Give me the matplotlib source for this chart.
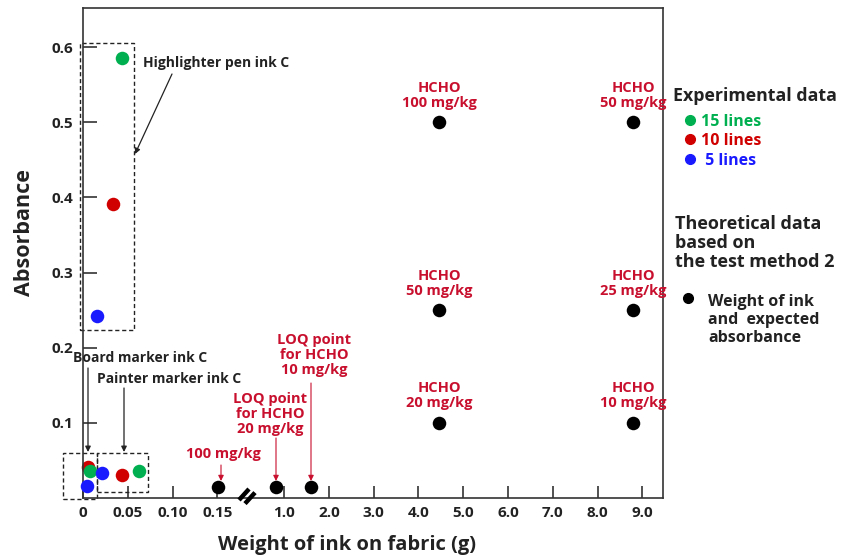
import numpy as np
import matplotlib
matplotlib.use("Agg")
import matplotlib.pyplot as plt
from matplotlib.patches import Rectangle
from matplotlib.lines import Line2D

plt.rcParams['font.family'] = ['Open Sans', 'DejaVu Sans']
plt.rcParams['font.weight'] = 'bold'

# ---------------- data ----------------
# experimental data: (weight of ink g, absorbance)
green_x = [0.044, 0.008, 0.062]
green_y = [0.586, 0.036, 0.036]
red_x = [0.034, 0.0056, 0.043]
red_y = [0.391, 0.041, 0.031]
blue_x = [0.016, 0.005, 0.021]
blue_y = [0.242, 0.016, 0.033]

# theoretical data
theo_x = [0.154, 0.82, 1.6, 4.46, 8.8, 4.46, 8.8, 4.46, 8.8]
theo_y = [0.015, 0.015, 0.015, 0.5, 0.5, 0.25, 0.25, 0.1, 0.1]
theo_labels = ["", "", "", "HCHO\n100 mg/kg", "HCHO\n50 mg/kg", "HCHO\n50 mg/kg",
               "HCHO\n25 mg/kg", "HCHO\n20 mg/kg", "HCHO\n10 mg/kg"]

x_ticks = [0, 0.05, 0.10, 0.15, 1, 2, 3, 4, 5, 6, 7, 8, 9]
x_ticklabels = ["0", "0.05", "0.10", "0.15", "1.0", "2.0", "3.0", "4.0", "5.0",
                "6.0", "7.0", "8.0", "9.0"]
y_ticks = [0.1, 0.2, 0.3, 0.4, 0.5, 0.6]
y_ticklabels = ["0.1", "0.2", "0.3", "0.4", "0.5", "0.6"]

# broken x axis: piecewise linear scale
KX = [-1.0, 0.0, 0.15, 0.6, 20.0]
KP = [-20.0, 0.0, 3.0, 4.09, 23.49]


def fwd(x):
    return np.interp(x, KX, KP)


def inv(p):
    return np.interp(p, KP, KX)


W, H = 841, 556


def fp(x, y):
    return (x / W, 1 - y / H)


RED_T = '#c8102e'
GREEN = '#00b050'
RED = '#d00000'
BLUE = '#1a1aff'
DARK = '#222222'

fig = plt.figure(figsize=(W / 100, H / 100), dpi=100)
ax = fig.add_axes([83 / W, 1 - 498 / H, (663 - 83) / W, (498 - 8) / H])
ax.set_xscale('function', functions=(fwd, inv))
ax.set_xlim(0, 9.46)
ax.set_ylim(0, 0.652)

for s in ax.spines.values():
    s.set_linewidth(1.2)
    s.set_color('#333333')

ax.set_xticks(x_ticks)
ax.set_xticklabels(x_ticklabels)
ax.set_yticks(y_ticks)
ax.set_yticklabels(y_ticklabels)
ax.xaxis.set_minor_locator(matplotlib.ticker.NullLocator())
ax.tick_params(axis='x', direction='in', length=8.5, width=1.2, color='#333333',
               labelsize=11, pad=6, labelcolor=DARK)
ax.tick_params(axis='y', direction='in', length=10, width=1.2, color='#333333',
               labelsize=11, pad=7, labelcolor=DARK)
for lab in ax.get_xticklabels() + ax.get_yticklabels():
    lab.set_fontweight('bold')

S = 95
ax.scatter(green_x, green_y, s=S, color=GREEN, zorder=3, clip_on=False, linewidths=0)
ax.scatter(red_x[:1] + red_x[2:], red_y[:1] + red_y[2:], s=S, color=RED, zorder=3,
           clip_on=False, linewidths=0)
ax.scatter(red_x[1:2], red_y[1:2], s=S, color=RED, zorder=2.5, clip_on=False, linewidths=0)
ax.scatter(blue_x, blue_y, s=S, color=BLUE, zorder=3, clip_on=False, linewidths=0)
ax.scatter(theo_x, theo_y, s=S, color='black', zorder=3, clip_on=False, linewidths=0)

# labels above theoretical points
for x, y, t in zip(theo_x, theo_y, theo_labels):
    if t:
        ax.annotate(t, (x, y), xytext=(0, 9), textcoords='offset points',
                    ha='center', va='bottom', color=RED_T, fontsize=10.5,
                    fontweight='bold', linespacing=1.1)

# dashed boxes (annotation regions)
boxes = [(-0.003, 0.223, 0.057, 0.606), (-0.022, -0.001, 0.0156, 0.060),
         (0.0156, 0.008, 0.073, 0.060)]
for x0, y0, x1, y1 in boxes:
    ax.add_patch(Rectangle((x0, y0), x1 - x0, y1 - y0, fill=False,
                           ls=(0, (3, 2)), lw=1.0, ec=DARK, clip_on=False, zorder=2))


def arrow(p0, p1, color, lw=0.9):
    fig.add_artist(matplotlib.patches.FancyArrowPatch(
        fp(*p0), fp(*p1), transform=fig.transFigure, arrowstyle='-|>',
        mutation_scale=8, color=color, lw=lw, shrinkA=0, shrinkB=0))


# black annotations
fig.text(*fp(143, 63), "Highlighter pen ink C", ha='left', va='center',
         fontsize=10, fontweight='bold', color=DARK)
arrow((172, 74), (135, 154), DARK)
fig.text(*fp(73, 358), "Board marker ink C", ha='left', va='center',
         fontsize=10, fontweight='bold', color=DARK)
arrow((88, 368), (88, 452), DARK)
fig.text(*fp(97, 379), "Painter marker ink C", ha='left', va='center',
         fontsize=10, fontweight='bold', color=DARK)
arrow((124, 388), (124, 452), DARK)

# red annotations
fig.text(*fp(223, 454), "100 mg/kg", ha='center', va='center', fontsize=10.5,
         fontweight='bold', color=RED_T)
arrow((221, 465), (221, 481), RED_T, 0.8)
fig.text(*fp(270, 414), "LOQ point\nfor HCHO\n20 mg/kg", ha='center', va='center',
         fontsize=10.5, fontweight='bold', color=RED_T, linespacing=1.1)
arrow((276, 438), (276, 481), RED_T, 0.8)
fig.text(*fp(314, 355), "LOQ point\nfor HCHO\n10 mg/kg", ha='center', va='center',
         fontsize=10.5, fontweight='bold', color=RED_T, linespacing=1.1)
arrow((311, 383), (311, 481), RED_T, 0.8)

# axis break symbol
for dx in (0, 6):
    fig.add_artist(Line2D([(239 + dx) / W, (249 + dx) / W],
                          [1 - (500 + dx * 0.6) / H, 1 - (489 + dx * 0.6) / H],
                          transform=fig.transFigure, color='black', lw=3.2,
                          solid_capstyle='butt'))

# axis labels
fig.text(*fp(347, 545), "Weight of ink on fabric (g)", ha='center', va='center',
         fontsize=14.5, fontweight='bold', color=DARK)
fig.text(*fp(25, 233), "Absorbance", ha='center', va='center', rotation=90,
         fontsize=15.5, fontweight='bold', color=DARK)

# legend (right side)
fig.text(*fp(673, 96), "Experimental data", ha='left', va='center', fontsize=12.8,
         fontweight='bold', color=DARK)
leg_items = [(120, GREEN, "15 lines"), (139, RED, "10 lines"), (159, BLUE, " 5 lines")]
for yy, c, t in leg_items:
    fig.add_artist(Line2D([690 / W], [1 - yy / H], marker='o', ms=7, color=c,
                          transform=fig.transFigure, lw=0))
    fig.text(*fp(701, yy + 2), t, ha='left', va='center', fontsize=11.5,
             fontweight='bold', color=c)
fig.text(*fp(675, 243), "Theoretical data\nbased on\nthe test method 2", ha='left',
         va='center', fontsize=13, fontweight='bold', color=DARK, linespacing=1.1)
fig.add_artist(Line2D([688 / W], [1 - 298 / H], marker='o', ms=7, color='black',
                      transform=fig.transFigure, lw=0))
fig.text(*fp(708, 320), "Weight of ink\nand  expected\nabsorbance", ha='left',
         va='center', fontsize=11.5, fontweight='bold', color=DARK, linespacing=1.15)

fig.savefig("out.png", dpi=100)
